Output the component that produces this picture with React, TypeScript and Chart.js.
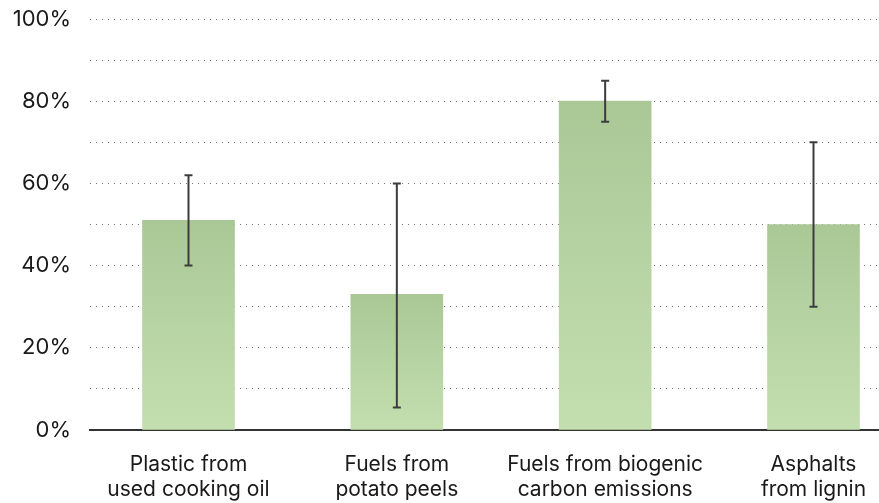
import React, { useEffect, useRef } from "react";
import { Chart, registerables } from "chart.js";

Chart.register(...registerables);

const categories: string[][] = [
  ["Plastic from", "used cooking oil"],
  ["Fuels from", "potato peels"],
  ["Fuels from biogenic", "carbon emissions"],
  ["Asphalts", "from lignin"],
];
const values: number[] = [51, 33, 80, 50];
const errorLow: number[] = [40, 5.5, 75, 30];
const errorHigh: number[] = [62, 60, 85, 70];
const yTickLabelEvery = 20;

const errorBarPlugin = {
  id: "errorBars",
  afterDatasetsDraw(chart: any) {
    const { ctx, scales } = chart;
    const xs = scales.x;
    const ys = scales.y;
    ctx.save();
    ctx.strokeStyle = "#3c3c3c";
    ctx.lineWidth = 2;
    values.forEach((_, i) => {
      const x = xs.getPixelForValue(i);
      const yl = ys.getPixelForValue(errorLow[i]);
      const yh = ys.getPixelForValue(errorHigh[i]);
      ctx.beginPath();
      ctx.moveTo(x, yl);
      ctx.lineTo(x, yh);
      ctx.moveTo(x - 4, yl);
      ctx.lineTo(x + 4, yl);
      ctx.moveTo(x - 4, yh);
      ctx.lineTo(x + 4, yh);
      ctx.stroke();
    });
    ctx.restore();
  },
};

export default function App() {
  const ref = useRef<HTMLCanvasElement | null>(null);
  useEffect(() => {
    document.body.style.margin = "0";
    const canvas = ref.current!;
    const family = "Inter, 'Noto Sans', sans-serif";
    const chart = new Chart(canvas, {
      type: "bar",
      data: {
        datasets: [
          {
            data: values.map((v, i) => ({ x: i, y: v })),
            barThickness: 92,
            borderWidth: 0,
            backgroundColor: (c: any) => {
              const ch = c.chart;
              const ys = ch.scales?.y;
              if (!ys || c.dataIndex === undefined) return "#b5d2a2";
              const top = ys.getPixelForValue(values[c.dataIndex]);
              const bottom = ys.getPixelForValue(0);
              if (!isFinite(top) || !isFinite(bottom) || top === bottom) return "#b5d2a2";
              const g = ch.ctx.createLinearGradient(0, top, 0, bottom);
              g.addColorStop(0, "#aac896");
              g.addColorStop(1, "#c3dfb0");
              return g;
            },
          } as any,
        ],
      },
      options: {
        responsive: false,
        animation: false,
        layout: { padding: { top: 19, left: 0, right: 0, bottom: 0 } },
        plugins: { legend: { display: false }, tooltip: { enabled: false } },
        scales: {
          x: {
            type: "linear",
            offset: false,
            min: -0.4728,
            max: 3.3144,
            grid: {
              display: false,
              drawTicks: true,
              tickLength: 22,
              tickColor: "rgba(0,0,0,0)",
              offset: false,
            },
            border: { display: true, color: "#333333", width: 2 },
            afterBuildTicks: (scale: any) => {
              scale.ticks = categories.map((_, i) => ({ value: i }));
            },
            afterFit: (scale: any) => {
              scale.height = 73;
            },
            ticks: {
              autoSkip: false,
              maxRotation: 0,
              padding: 0,
              color: "#1a1a1a",
              font: { family, size: 21, lineHeight: 1.2 },
              callback: (v: any) => categories[Math.round(Number(v))] ?? "",
            },
          },
          y: {
            min: 0,
            max: 100,
            grid: {
              drawTicks: true,
              tickLength: 19,
              tickColor: "rgba(0,0,0,0)",
              color: "rgba(0,0,0,0.55)",
              lineWidth: 1,
            },
            border: { display: false, dash: [1, 5] },
            afterFit: (scale: any) => {
              scale.width = 90;
            },
            ticks: {
              stepSize: 10,
              padding: 0,
              color: "#1a1a1a",
              font: { family, size: 22 },
              callback: (v: any) =>
                Number(v) % yTickLabelEvery === 0 ? v + "%" : "",
            },
          },
        },
      },
      plugins: [errorBarPlugin],
    } as any);
    return () => chart.destroy();
  }, []);
  return (
    <div style={{ width: 879, height: 503 }}>
      <canvas ref={ref} width={879} height={503} style={{ display: "block" }} />
    </div>
  );
}
